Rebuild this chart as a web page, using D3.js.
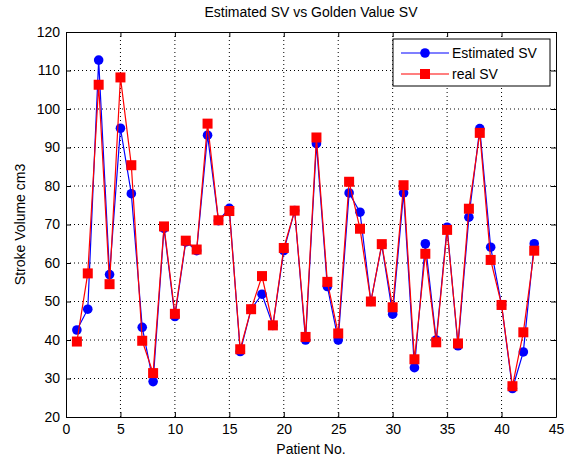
<!DOCTYPE html>
<html>
  <head>
    <script src="https://d3js.org/d3.v7.min.js"></script>
    <style>
      body { margin: 0; background: #fff; }
      text { font-family: "Liberation Sans", Arial, sans-serif; fill: #000; }
    </style>
  </head>
  <body>
    <div id="chart"></div>
    <script>
      var patients = d3.range(1, 44);
      var estimatedSV = [42.6, 48, 112.7, 57, 95, 78, 43.3, 29.2, 69, 46.1,
        65.5, 63.2, 93.2, 71, 74.2, 37, 48, 51.9, 43.8, 63.2,
        73.6, 40, 91, 53.9, 40, 78.2, 73.2, 50, 64.7, 46.7,
        78.2, 32.8, 65, 40, 69.3, 38.5, 71.9, 94.9, 64.1, 49.1,
        27.4, 36.9, 65];
      var realSV = [39.6, 57.3, 106.3, 54.5, 108.2, 85.4, 39.8, 31.4, 69.5, 46.8,
        65.8, 63.5, 96.2, 71.1, 73.5, 37.6, 48, 56.6, 43.8, 63.9,
        73.6, 40.8, 92.6, 55.1, 41.7, 81.1, 68.9, 50, 64.9, 48.5,
        80.2, 35, 62.4, 39.4, 68.6, 39.1, 74.1, 93.8, 60.8, 49.1,
        28, 42, 63.2];
      var xTicks = [0, 5, 10, 15, 20, 25, 30, 35, 40, 45];
      var yTicks = [20, 30, 40, 50, 60, 70, 80, 90, 100, 110, 120];

      var W = 571, H = 459;
      var margin = { top: 32, right: 15, bottom: 42, left: 66 };
      var width = W - margin.left - margin.right;
      var height = H - margin.top - margin.bottom;

      var svg = d3.select("#chart").append("svg")
        .attr("width", W).attr("height", H);
      var g = svg.append("g")
        .attr("transform", "translate(" + margin.left + "," + margin.top + ")");

      var x = d3.scaleLinear().domain([0, 45]).range([0, width]);
      var y = d3.scaleLinear().domain([20, 120]).range([height, 0]);

      // dotted grid
      g.append("g").selectAll("line").data(xTicks.slice(1, -1)).enter().append("line")
        .attr("x1", d => x(d)).attr("x2", d => x(d))
        .attr("y1", 0).attr("y2", height)
        .attr("stroke", "#000").attr("stroke-width", 1).attr("stroke-dasharray", "1,3");
      g.append("g").selectAll("line").data(yTicks.slice(1, -1)).enter().append("line")
        .attr("y1", d => y(d)).attr("y2", d => y(d))
        .attr("x1", 0).attr("x2", width)
        .attr("stroke", "#000").attr("stroke-width", 1).attr("stroke-dasharray", "1,3");

      // axes (ticks inside, box on)
      function styleAxis(sel) {
        sel.select(".domain").attr("stroke", "#000");
        sel.selectAll(".tick line").attr("stroke", "#000");
        sel.selectAll("text").style("font-size", "14px")
          .style("font-family", "'Liberation Sans', Arial, sans-serif");
      }
      g.append("g").attr("transform", "translate(0," + height + ")")
        .call(d3.axisBottom(x).tickValues(xTicks).tickSizeInner(-5).tickSizeOuter(0).tickPadding(7))
        .call(styleAxis);
      g.append("g")
        .call(d3.axisLeft(y).tickValues(yTicks).tickSizeInner(-5).tickSizeOuter(0).tickPadding(6))
        .call(styleAxis);
      g.append("g")
        .call(d3.axisTop(x).tickValues(xTicks).tickSizeInner(-5).tickSizeOuter(0).tickFormat(""))
        .call(styleAxis);
      g.append("g").attr("transform", "translate(" + width + ",0)")
        .call(d3.axisRight(y).tickValues(yTicks).tickSizeInner(-5).tickSizeOuter(0).tickFormat(""))
        .call(styleAxis);

      var estData = patients.map((p, i) => ({ p: p, v: estimatedSV[i] }));
      var realData = patients.map((p, i) => ({ p: p, v: realSV[i] }));
      var line = d3.line().x(d => x(d.p)).y(d => y(d.v));

      g.append("path").datum(estData).attr("d", line)
        .attr("fill", "none").attr("stroke", "#0000ff").attr("stroke-width", 1.2);
      g.append("g").selectAll("circle").data(estData).enter().append("circle")
        .attr("cx", d => x(d.p)).attr("cy", d => y(d.v)).attr("r", 4.8)
        .attr("fill", "#0000ff");

      g.append("path").datum(realData).attr("d", line)
        .attr("fill", "none").attr("stroke", "#ff0000").attr("stroke-width", 1.2);
      g.append("g").selectAll("rect").data(realData).enter().append("rect")
        .attr("x", d => x(d.p) - 5).attr("y", d => y(d.v) - 5)
        .attr("width", 10).attr("height", 10)
        .attr("fill", "#ff0000");

      // legend
      var lg = svg.append("g").attr("transform", "translate(393,39)");
      lg.append("rect").attr("width", 157).attr("height", 47)
        .attr("fill", "#fff").attr("stroke", "#000");
      var items = [
        { name: "Estimated SV", color: "#0000ff", shape: "circle" },
        { name: "real SV", color: "#ff0000", shape: "square" }
      ];
      var li = lg.selectAll("g.item").data(items).enter().append("g")
        .attr("transform", (d, i) => "translate(0," + (14 + i * 21) + ")");
      li.append("line").attr("x1", 8).attr("x2", 56).attr("y1", 0).attr("y2", 0)
        .attr("stroke", d => d.color).attr("stroke-width", 1.2);
      li.each(function (d) {
        var s = d3.select(this);
        if (d.shape === "circle") {
          s.append("circle").attr("cx", 32).attr("cy", 0).attr("r", 4.8).attr("fill", d.color);
        } else {
          s.append("rect").attr("x", 27).attr("y", -5).attr("width", 10).attr("height", 10).attr("fill", d.color);
        }
      });
      li.append("text").attr("x", 59).attr("y", 0).attr("dy", "0.35em")
        .style("font-size", "14px").text(d => d.name);

      // titles
      svg.append("text").attr("x", margin.left + width / 2).attr("y", 17)
        .attr("text-anchor", "middle").style("font-size", "14px")
        .text("Estimated SV vs Golden Value SV");
      svg.append("text").attr("x", margin.left + width / 2).attr("y", 454)
        .attr("text-anchor", "middle").style("font-size", "14px")
        .text("Patient No.");
      svg.append("text")
        .attr("transform", "translate(25," + (margin.top + height / 2) + ") rotate(-90)")
        .attr("text-anchor", "middle").style("font-size", "14px")
        .text("Stroke Volume cm3");
    </script>
  </body>
</html>
